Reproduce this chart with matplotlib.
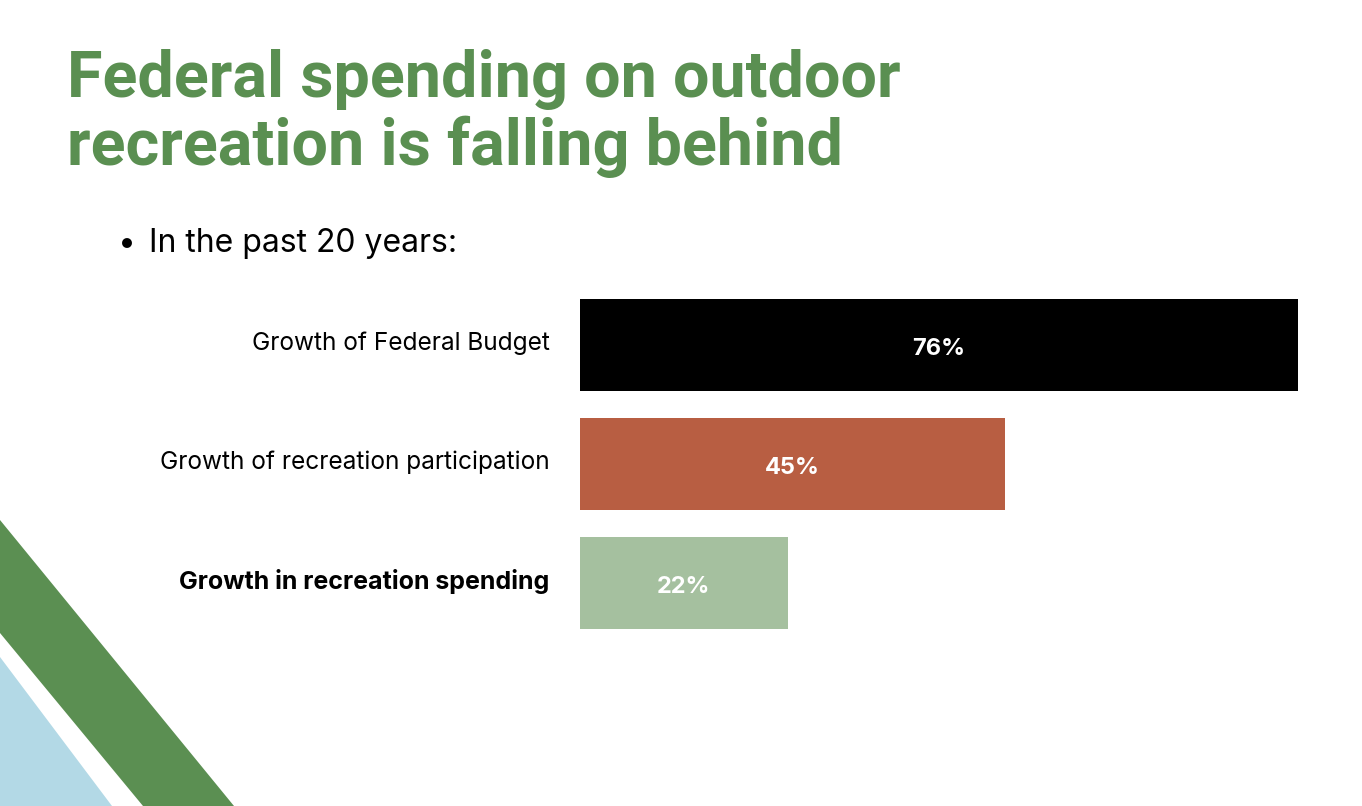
import matplotlib.pyplot as plt
from matplotlib.patches import Polygon
from matplotlib.transforms import ScaledTranslation

categories = ['Growth of Federal Budget', 'Growth of recreation participation', 'Growth in recreation spending']
values = [76, 45, 22]
bar_colors = ['#000000', '#b85e42', '#a5c09f']
title_lines = ['Federal spending on outdoor', 'recreation is falling behind']
bullet = 'In the past 20 years:'

W, H = 1362, 806
fig = plt.figure(figsize=(W / 100, H / 100), dpi=100)
fig.patch.set_facecolor('white')

def fx(px):
    return px / W

def fy(py):
    return 1 - py / H

# decorative corner shapes
green_band = Polygon([(fx(0), fy(520)), (fx(0), fy(633)), (fx(143), fy(806)), (fx(234), fy(806))],
                     closed=True, transform=fig.transFigure, facecolor='#5b8f52', edgecolor='none')
blue_tri = Polygon([(fx(0), fy(657)), (fx(0), fy(806)), (fx(112), fy(806))],
                   closed=True, transform=fig.transFigure, facecolor='#b3d9e6', edgecolor='none')
fig.patches.extend([blue_tri, green_band])

# title
for ln, yy in zip(title_lines, [97, 165]):
    fig.text(fx(67), fy(yy), ln, fontsize=46.5, fontweight='bold', color='#5a8f51',
             family='Roboto', va='baseline', ha='left')

# bullet
fig.text(fx(118), fy(252), '\u2022', fontsize=23, color='black', va='baseline', family='Inter')
fig.text(fx(149), fy(252), bullet, fontsize=23, color='black', va='baseline', family='Inter')

# bars
bh = 0.773
ax = fig.add_axes([fx(580), fy(629), fx(1298) - fx(580), (629 - 299) / H])
y = list(range(len(values)))
bars = ax.barh(y, values, height=bh, color=bar_colors)
ax.set_xlim(0, max(values))
ax.set_ylim(len(values) - 1 + bh / 2, -bh / 2)
ax.set_yticks(y)
ax.set_yticklabels(categories, fontsize=17.6, family='Inter')
ax.get_yticklabels()[2].set_fontweight('bold')
ax.get_yticklabels()[2].set_fontsize(18)
ax.tick_params(axis='y', length=0, pad=22)
up = ScaledTranslation(0, 4 / 100, fig.dpi_scale_trans)
for lab in ax.get_yticklabels():
    lab.set_transform(lab.get_transform() + up)
ax.set_xticks([])
for s in ax.spines.values():
    s.set_visible(False)
for b, v in zip(bars, values):
    ax.text(v / 2, b.get_y() + b.get_height() / 2 + 0.035, f'{v}%', ha='center', va='center',
            color='white', fontsize=17, fontweight='bold', family='Inter')

fig.savefig('out.png', dpi=100)
